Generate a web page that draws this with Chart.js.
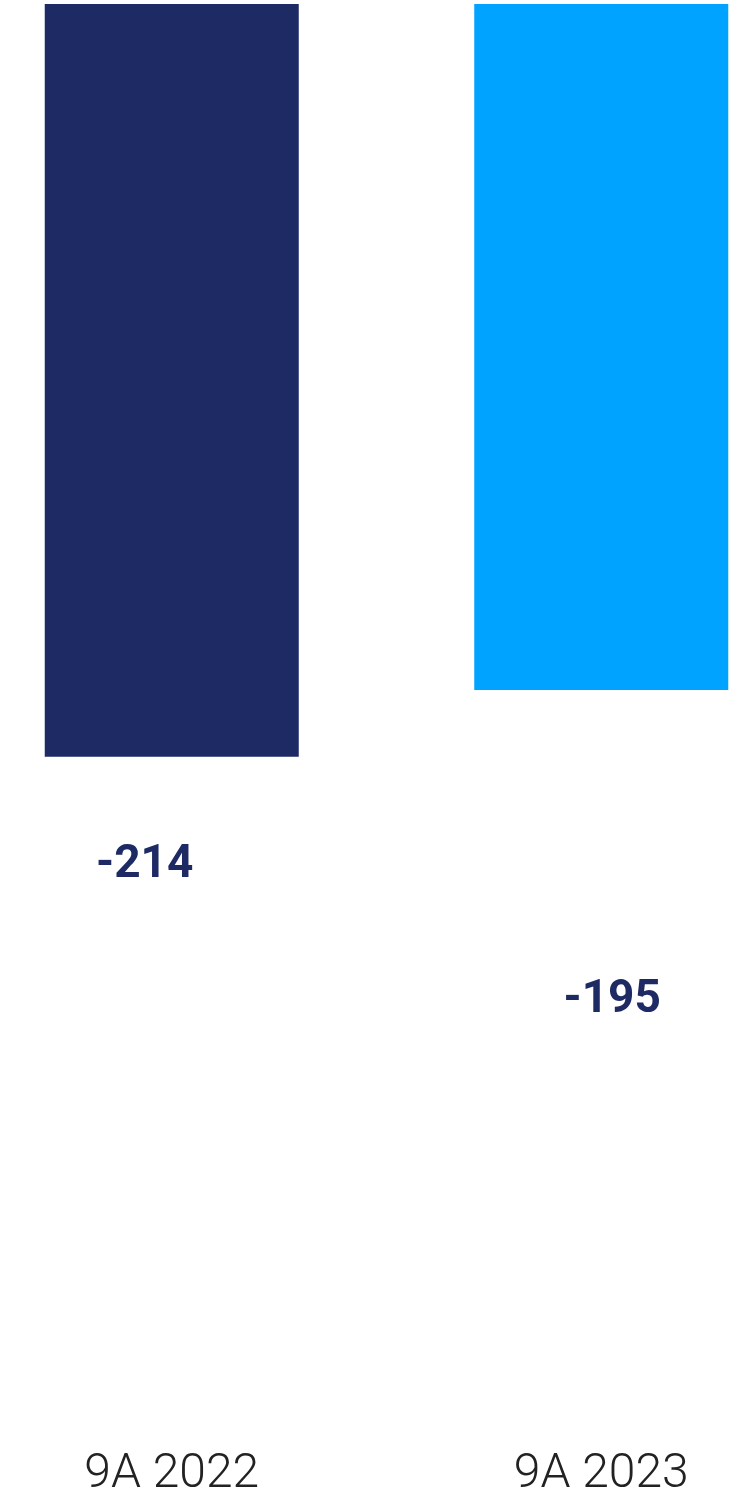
<!DOCTYPE html>
<html>
<head>
<meta charset="utf-8">
<script src="https://cdn.jsdelivr.net/npm/chart.js@4"></script>
<style>
  html, body { margin: 0; padding: 0; background: #ffffff; overflow: hidden; }
  #wrap { width: 859px; height: 1504px; position: relative; left: -43px; }
</style>
</head>
<body>
<div id="wrap"><canvas id="chart"></canvas></div>
<script>
// Chart data
const categories = ['9A 2022', '9A 2023'];
const values = [-214, -195];
const barColors = ['#1e2a64', '#00a3ff'];

// Draws the value labels below each bar
const valueLabels = {
    id: 'valueLabels',
    afterDatasetsDraw(chart, args, opts) {
        const ctx = chart.ctx;
        const meta = chart.getDatasetMeta(0);
        ctx.save();
        ctx.font = '700 46px Roboto';
        ctx.fillStyle = '#1e2a64';
        ctx.textAlign = 'center';
        ctx.textBaseline = 'middle';
        meta.data.forEach((bar, i) => {
            ctx.fillText(String(values[i]), bar.x + opts.shiftX[i], bar.y + opts.shiftY[i]);
        });
        ctx.restore();
    }
};

const ctx = document.getElementById('chart').getContext('2d');

new Chart(ctx, {
    type: 'bar',
    data: {
        labels: categories,
        datasets: [{
            data: values,
            backgroundColor: barColors,
            borderWidth: 0,
            barPercentage: 0.5914,
            categoryPercentage: 1
        }]
    },
    options: {
        responsive: true,
        maintainAspectRatio: false,
        animation: false,
        layout: {
            padding: { left: 0, right: 0, top: 4, bottom: 0 }
        },
        plugins: {
            legend: { display: false },
            tooltip: { enabled: false },
            valueLabels: {
                shiftX: [-27, 11],
                shiftY: [109, 311]
            }
        },
        scales: {
            x: {
                grid: { display: false, drawTicks: false },
                border: { display: false },
                afterFit: (scale) => { scale.height = 93; },
                ticks: {
                    color: '#222222',
                    padding: 35,
                    font: { family: 'Roboto', size: 48, weight: '300' }
                }
            },
            y: {
                display: false,
                min: -400,
                max: 0
            }
        }
    },
    plugins: [valueLabels]
});
</script>
</body>
</html>
